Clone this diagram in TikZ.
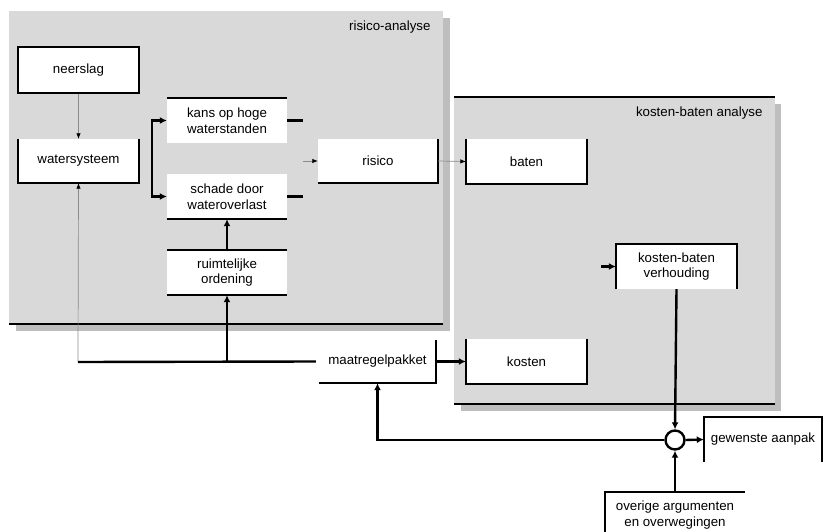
\documentclass[tikz,border=0pt]{standalone}
\usepackage{fontspec}
\setmainfont{Liberation Sans}
\usetikzlibrary{arrows.meta}
\definecolor{panelgrey}{HTML}{D9D9D9}
\definecolor{shadegrey}{HTML}{BEBEBE}
\definecolor{thingrey}{HTML}{8A8A8A}
\begin{document}
\begin{tikzpicture}[x=1pt,y=-1pt,
  txt/.style={font=\fontsize{13.3}{15.5}\selectfont},
  box/.style={txt, fill=white, minimum width=120pt, minimum height=45pt, inner sep=2pt, align=center},
  bl/.style={line width=2.4pt, black},
  pl/.style={line width=2.6pt, black},
  tk/.style={line width=2.4pt, black},
  tka/.style={tk, -{Latex[length=7pt,width=7pt]}},
  thn/.style={line width=0.7pt, thingrey},
  thna/.style={thn, -{Latex[length=5.5pt,width=4.5pt,black]}}
]
\useasboundingbox (0,0) rectangle (829,532);
% panels
\fill[shadegrey] (16,18) rectangle (450,331);
\fill[panelgrey] (9,11) rectangle (443,324);
\draw[pl] (9,324) -- (443,324);
\fill[shadegrey] (461,104) rectangle (781,411);
\fill[panelgrey] (454,97) rectangle (775,404);
\draw[pl] (454,97) -- (775,97);
\draw[pl] (454,404) -- (775,404);
\node[txt, anchor=east] (t1) at (434,27) {risico-analyse};
\node[txt, anchor=east] (t2) at (766,113) {kosten-baten analyse};
% nodes
\node[box, draw=black, line width=2.4pt, minimum width=121pt, minimum height=46pt] (neer) at (78.5,70) {neerslag};
\node[box, minimum width=121pt, minimum height=44pt] (ws) at (78.5,161) {watersysteem};
\node[box] (kans) at (227,120.5) {kans op hoge\\waterstanden};
\node[box] (schade) at (227,196.5) {schade door\\wateroverlast};
\node[box] (ruim) at (227,272.5) {ruimtelijke\\ordening};
\node[box, minimum height=44pt] (risico) at (378,161) {risico};
\node[box, minimum width=121pt] (baten) at (526.5,161.5) {baten};
\node[box, minimum width=121pt] (kosten) at (526.5,361.5) {kosten};
\node[box, minimum width=121pt] (verh) at (676.5,266.5) {kosten-baten\\verhouding};
\node[box, minimum width=117pt, minimum height=43pt] (maat) at (377.5,361.5) {maatregelpakket};
\node[box, minimum width=118pt] (gew) at (763,439.5) {gewenste aanpak};
\node[box, minimum width=140pt, minimum height=46pt] (over) at (675,515) {overige argumenten\\en overwegingen};
\node[circle, draw=black, line width=2.4pt, minimum size=19pt, inner sep=0pt] (sum) at (675,440) {};
% partial borders
\draw[bl] (ws.north west) -- (ws.south west) -- (ws.south east) -- (ws.north east);
\draw[bl] (kans.north west) -- (kans.north east);
\draw[bl] (schade.south west) -- (schade.south east);
\draw[bl] (ruim.north west) -- (ruim.north east);
\draw[bl] (ruim.south west) -- (ruim.south east);
\draw[bl] (risico.south west) -- (risico.south east) -- (risico.north east);
\draw[bl] (baten.north west) -- (baten.south west) -- (baten.south east) -- (baten.north east);
\draw[bl] (kosten.north west) -- (kosten.south west) -- (kosten.south east) -- (kosten.north east);
\draw[bl] (verh.south west) -- (verh.north west) -- (verh.north east) -- (verh.south east);
\draw[bl] (maat.south west) -- (maat.south east) -- (maat.north east);
\draw[bl] (gew.south west) -- (gew.north west) -- (gew.north east) -- (gew.south east);
\draw[bl] (over.south west) -- (over.north west) -- (over.north east);
% connectors
\coordinate (j1) at (78,362);
\coordinate (r0) at (303,161);
\coordinate (v0) at (601,266.5);
\draw[thna] (neer.south) -- (ws.north);
\draw[thna] (j1) -- (ws.south);
\draw[tk] (maat.west) ++(-3,0) -- (j1);
\draw[tka] (ruim.south |- j1) -- (ruim.south);
\draw[tka] (ruim.north) -- (schade.south);
\draw[tk, {Latex[length=7pt,width=7pt]}-{Latex[length=7pt,width=7pt]}] (kans.west) -- ++(-15,0) |- (schade.west);
\draw[tk] (kans.east) -- ++(16,0);
\draw[tk] (schade.east) -- ++(16,0);
\draw[thna] (r0) -- (risico.west);
\draw[thna] (risico.east) -- (baten.west);
\draw[tka] (v0) -- (verh.west);
\draw[tka] (verh.south) -- (sum.north);
\draw[tka] (sum.west) -| (maat.south);
\draw[tka] (sum.east) -- (gew.west);
\draw[tka] (over.north) -- (sum.south);
\draw[tka] (maat.east) -- (kosten.west);
\end{tikzpicture}
\end{document}
